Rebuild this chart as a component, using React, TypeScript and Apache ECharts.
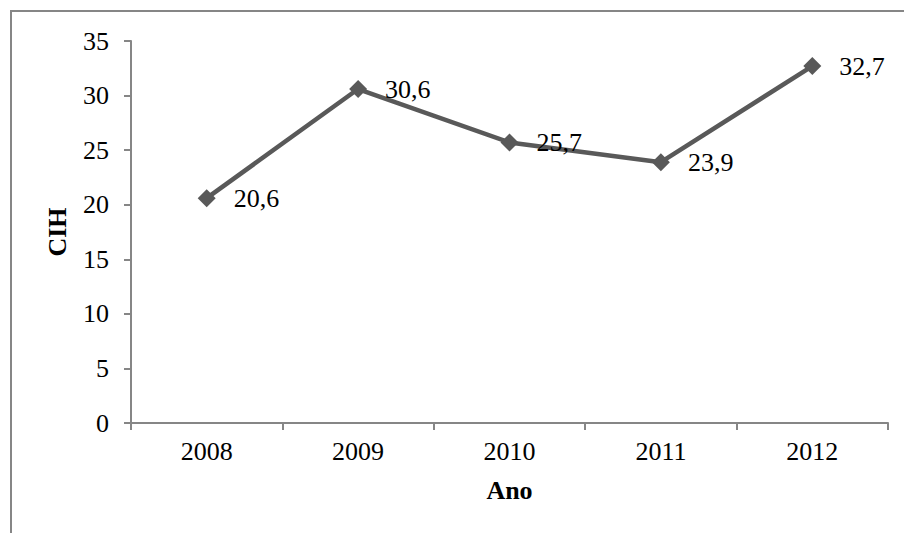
import React, { useEffect, useRef } from "react";
import * as echarts from "echarts";

const years = ["2008", "2009", "2010", "2011", "2012"];
const cih = [20.6, 30.6, 25.7, 23.9, 32.7];
const yTicks = { min: 0, max: 35, interval: 5 };
const xTitle = "Ano";
const yTitle = "CIH";

const FONT = "'Liberation Serif', 'Times New Roman', serif";
const GRAY = "#868686";

export default function App() {
  const ref = useRef<HTMLDivElement>(null);
  useEffect(() => {
    document.body.style.margin = "0";
    const chart = echarts.init(ref.current!, null, { renderer: "svg" });
    chart.setOption({
      animation: false,
      backgroundColor: "#ffffff",
      graphic: [
        {
          type: "rect",
          shape: { x: 11, y: 11, width: 1000, height: 1000 },
          style: { fill: "none", stroke: GRAY, lineWidth: 2 },
          silent: true,
        },
      ],
      grid: { left: 131, right: 16, top: 41, bottom: 110 },
      xAxis: {
        type: "category",
        data: years,
        boundaryGap: true,
        name: xTitle,
        nameLocation: "middle",
        nameGap: 54,
        nameTextStyle: { fontFamily: FONT, fontSize: 26, fontWeight: "bold", color: "#000" },
        axisLine: { lineStyle: { color: GRAY, width: 2 } },
        axisTick: { show: true, length: 7, lineStyle: { color: GRAY, width: 2 } },
        axisLabel: { fontFamily: FONT, fontSize: 26, color: "#000", margin: 15 },
        splitLine: { show: false },
      },
      yAxis: {
        type: "value",
        min: yTicks.min,
        max: yTicks.max,
        interval: yTicks.interval,
        name: yTitle,
        nameLocation: "middle",
        nameGap: 61,
        nameRotate: 90,
        nameTextStyle: { fontFamily: FONT, fontSize: 26, fontWeight: "bold", color: "#000" },
        axisLine: { show: true, lineStyle: { color: GRAY, width: 2 } },
        axisTick: { show: true, length: 7, lineStyle: { color: GRAY, width: 2 } },
        axisLabel: { fontFamily: FONT, fontSize: 26, color: "#000", margin: 22 },
        splitLine: { show: false },
      },
      series: [
        {
          type: "line",
          data: cih,
          symbol: "diamond",
          symbolSize: 18,
          lineStyle: { color: "#595959", width: 4.5 },
          itemStyle: { color: "#595959" },
          label: {
            show: true,
            position: "right",
            distance: 18,
            offset: [0, 0],
            fontFamily: FONT,
            fontSize: 26,
            color: "#000",
            formatter: (p: any) => String(p.value).replace(".", ","),
          },
        },
      ],
    });
    return () => chart.dispose();
  }, []);
  return <div ref={ref} style={{ width: 904, height: 533 }} />;
}
